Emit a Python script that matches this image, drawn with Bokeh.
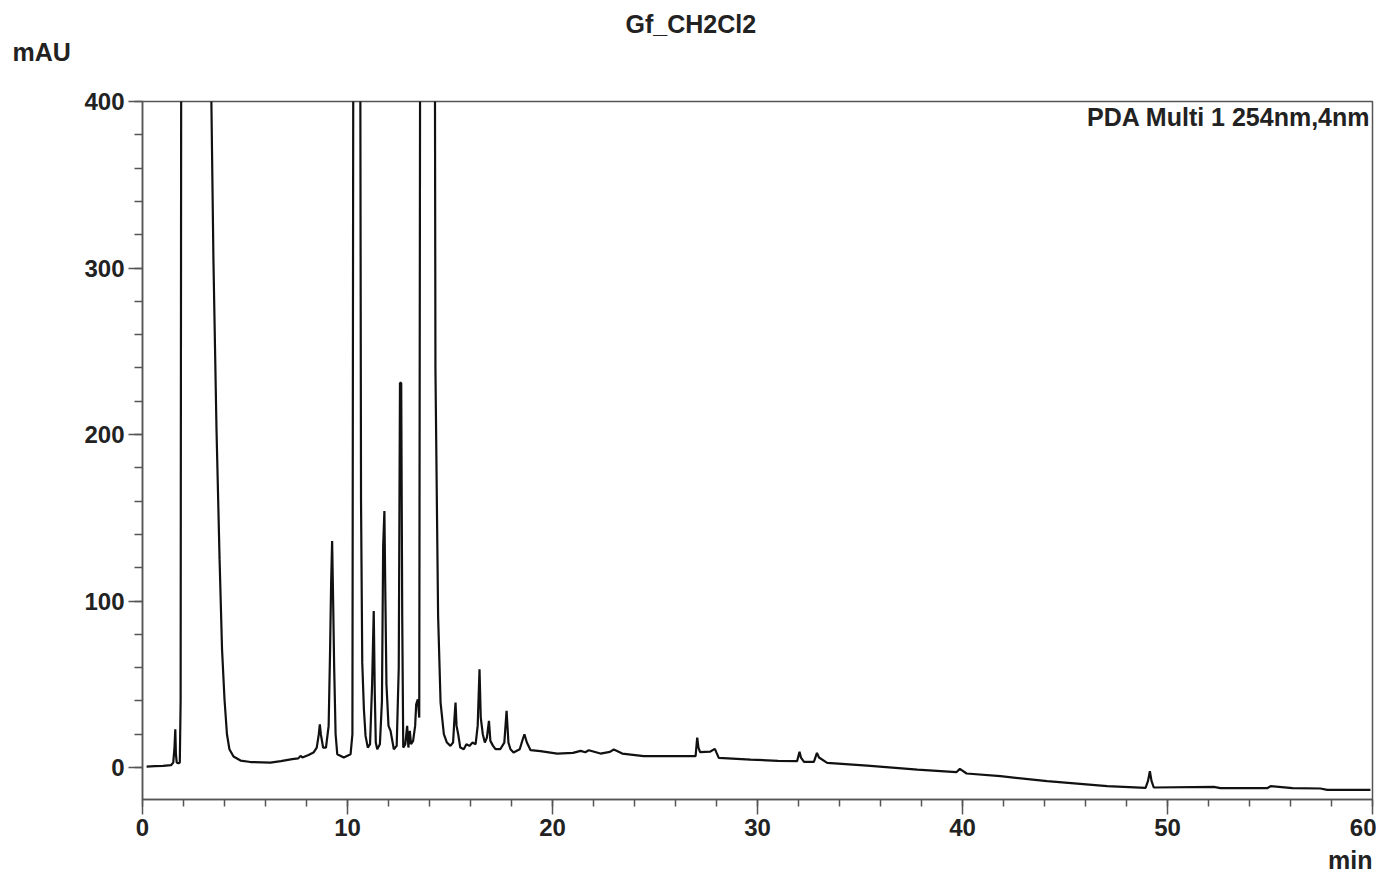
from bokeh.plotting import figure
from bokeh.models import Label, SingleIntervalTicker, Range1d, Title
from bokeh.embed import file_html
from bokeh.resources import INLINE

# Chromatogram trace (time in min, signal in mAU);
# values above 400 are off-scale (clipped by the frame)
time_min = [
    0.2, 0.6, 1.0, 1.4, 1.5, 1.56, 1.6, 1.63, 1.67, 1.75, 1.82, 1.86, 1.9,
    3.3, 3.36, 3.46, 3.61, 3.76, 3.88, 4.0, 4.12, 4.24, 4.44, 4.78, 5.27, 6.24,
    6.75, 7.3, 7.6, 7.71, 7.8, 8.1, 8.34, 8.5, 8.6, 8.65, 8.7, 8.81, 8.95,
    9.08, 9.15, 9.2, 9.25, 9.3, 9.35, 9.42, 9.5, 9.82, 10.15, 10.24, 10.3,
    10.6, 10.66, 10.72, 10.8, 10.88, 10.99, 11.1, 11.2, 11.28, 11.33, 11.38,
    11.45, 11.58, 11.68, 11.74, 11.8, 11.85, 11.9, 12.0, 12.1, 12.26, 12.4,
    12.5, 12.56, 12.62, 12.67, 12.72, 12.82, 12.91, 12.97, 13.04, 13.1, 13.2,
    13.3, 13.35, 13.43, 13.5, 13.56, 14.24, 14.29, 14.37, 14.42, 14.54, 14.7,
    14.85, 15.02, 15.15, 15.22, 15.27, 15.32, 15.4, 15.5, 15.67, 15.8, 15.95,
    16.1, 16.25, 16.35, 16.44, 16.5, 16.6, 16.7, 16.8, 16.9, 16.97, 17.1,
    17.22, 17.45, 17.65, 17.76, 17.85, 17.95, 18.1, 18.4, 18.55, 18.63, 18.75,
    18.93, 19.41, 20.23, 21.0, 21.37, 21.6, 21.77, 22.34, 22.8, 22.99, 23.2,
    23.4, 24.45, 26.98, 27.03, 27.06, 27.12, 27.2, 27.7, 27.92, 28.11, 29.66,
    31.0, 31.93, 32.05, 32.12, 32.27, 32.75, 32.9, 33.0, 33.4, 35.35, 37.8,
    39.7, 39.87, 40.2, 41.85, 44.13, 47.06, 48.93, 49.05, 49.14, 49.22, 49.33,
    52.26, 52.58, 54.86, 55.03, 56.1, 57.46, 57.79, 59.9,
]
signal_mau = [
    0.5, 0.8, 1.0, 1.5, 3.0, 12, 23, 8, 3, 2.5, 3, 40, 600,
    600, 400, 305, 203, 125, 71, 41, 20, 11, 6.6, 4.2, 3.3, 3.0,
    3.8, 5, 5.5, 7, 6, 7.5, 9, 12, 20, 26, 20, 12, 12,
    25, 70, 110, 136, 100, 60, 20, 8, 6, 8, 20, 600,
    600, 160, 63, 35, 19, 12, 14, 50, 94, 45, 15,
    11, 14, 40, 133, 154, 100, 50, 25, 22, 11, 13,
    60, 231, 231, 90, 12, 14, 25, 12, 22, 14, 16,
    25, 38, 41, 30, 600, 600, 239, 147, 91, 39, 20,
    15, 13, 15, 30, 39, 25, 20, 12, 11, 14, 13,
    15, 14, 25, 59, 30, 20, 15, 18, 28, 16, 13,
    11, 11, 15, 34, 15, 11, 9, 11, 17, 20, 15,
    10.4, 9.8, 8.4, 8.8, 10, 9.2, 10.4, 8.4, 9.4, 10.8, 9.6,
    8.4, 6.8, 6.8, 14, 18, 12, 9.2, 9.6, 11.2, 5.8, 4.8,
    4.0, 3.8, 9.4, 6, 3.4, 3.4, 8.8, 6, 2.8, 1.2, -1.2,
    -2.8, -0.8, -3.6, -5.2, -8.2, -11.2, -12.2, -8, -2.2, -8, -12,
    -11.6, -12.4, -12.4, -11.2, -12.4, -12.6, -13.4, -13.4,
]

title_text = "Gf_CH2Cl2"
y_unit = "mAU"
x_unit = "min"
channel_text = "PDA Multi 1 254nm,4nm"

FONT = "Liberation Sans"
TXT = "#222222"
AX = "#555555"
FS_TICK = "24px"
FS_TEXT = "25px"

p = figure(width=1376, height=879, output_backend="svg", toolbar_location=None,
           x_range=Range1d(0, 60), y_range=Range1d(-19.2, 400),
           min_border_left=142, min_border_right=4, min_border_top=101,
           min_border_bottom=79)
p.title.visible = False
p.grid.visible = False
p.outline_line_color = AX
p.outline_line_width = 1.5
p.background_fill_color = "white"
p.border_fill_color = "white"

p.line(time_min, signal_mau, line_color="#111111", line_width=2.2)

p.xaxis.ticker = SingleIntervalTicker(interval=10, num_minor_ticks=5)
p.yaxis.ticker = SingleIntervalTicker(interval=100, num_minor_ticks=5)

for ax in (p.xaxis[0], p.yaxis[0]):
    ax.axis_line_color = AX
    ax.axis_line_width = 1.5
    ax.major_tick_line_color = AX
    ax.minor_tick_line_color = AX
    ax.major_tick_line_width = 1.5
    ax.minor_tick_line_width = 1.5
    ax.major_tick_in = 0
    ax.minor_tick_in = 0
    ax.major_label_text_font = FONT
    ax.major_label_text_font_style = "bold"
    ax.major_label_text_font_size = FS_TICK
    ax.major_label_text_color = TXT

p.xaxis.major_tick_out = 15
p.xaxis.minor_tick_out = 7
p.xaxis.major_label_standoff = 4
p.yaxis.major_tick_out = 14
p.yaxis.minor_tick_out = 8
p.yaxis.major_label_standoff = 4

def make_title(text, align, offset, standoff, valign="bottom"):
    return Title(text=text, align=align, offset=offset, standoff=standoff,
                 vertical_align=valign, text_font=FONT, text_font_style="bold",
                 text_font_size=FS_TEXT, text_color=TXT)

# stacked from the frame outward
p.add_layout(make_title(y_unit, "left", -130, 69, "middle"), "above")
p.add_layout(make_title(title_text, "left", 483, -70), "above")
p.add_layout(make_title(x_unit, "right", 0, 11), "below")

p.add_layout(Label(x=59.9, y=390.4, text=channel_text, text_font=FONT,
                   text_font_style="bold", text_font_size=FS_TEXT,
                   text_color=TXT, text_align="right", text_baseline="middle"))

open("out.html", "w").write(file_html(p, INLINE))
